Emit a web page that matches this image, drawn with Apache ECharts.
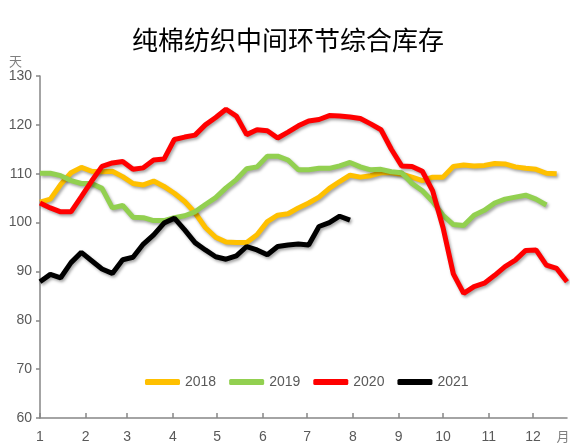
<!DOCTYPE html>
<html>
<head>
<meta charset="utf-8">
<script src="https://cdn.jsdelivr.net/npm/echarts@6/dist/echarts.min.js"></script>
<style>
html,body{margin:0;padding:0;background:#fff;}
#chart{width:576px;height:446px;}
</style>
</head>
<body>
<div id="chart"></div>
<script>
// 周度数据（按周排列，横轴为一年中的天数）
var months = [1,2,3,4,5,6,7,8,9,10,11,12];
var monthStartDay = [0,31,59,90,120,151,181,212,243,273,304,334];
var years = ['2018','2019','2020','2021'];
var colorLine = ['#ffc000','#92d050','#ff0000','#000000'];

var data2018 = [104.2,104.8,107.8,110.2,111.3,110.5,110.4,110.5,109.4,108,107.7,108.5,107.4,106,104.3,102,99,97,96,95.9,95.9,97.5,100.2,101.5,101.8,103,104,105.2,107,108.4,109.7,109.3,109.6,110.2,110.2,109.9,109.3,108.6,109.3,109.3,111.5,111.8,111.6,111.7,112.1,112,111.4,111.1,110.9,110.1,110];
var data2019 = [110.1,110.1,109.6,108.6,108,108,107,103,103.5,101.1,101,100.4,100.4,101,101.4,102.2,103.7,105.1,107.1,108.8,111,111.4,113.6,113.6,112.8,110.8,110.8,111.1,111.1,111.6,112.3,111.4,110.8,110.9,110.4,110.2,108,106.5,104.3,101.5,99.6,99.4,101.5,102.5,104,104.8,105.2,105.6,104.8,103.6];
var data2020 = [104,103,102.2,102.2,105.3,108.5,111.5,112.2,112.5,110.9,111.2,112.8,113,117,117.5,117.9,120,121.5,123.2,121.8,118,119,118.8,117.3,118.5,119.8,120.8,121.1,121.9,121.8,121.6,121.3,120.2,119,115,111.6,111.5,110.5,106.5,99,89.5,85.5,86.9,87.6,89.2,91,92.3,94.3,94.4,91.3,90.6,87.9];
var data2021 = [87.9,89.4,88.7,91.8,93.9,92.2,90.5,89.6,92.4,92.9,95.6,97.5,99.9,100.9,98.5,95.9,94.4,93,92.5,93.2,95.1,94.4,93.4,95.1,95.4,95.6,95.4,99.2,100,101.3,100.5];

var seriesList = [data2018,data2019,data2020,data2021];
var labelFont = "'Liberation Sans',sans-serif";

var seriesData = [];
years.forEach(function(p, k){
    seriesData.push({
        name: p,
        type: 'line',
        showSymbol: false,
        symbol: 'none',
        smooth: false,
        z: 2 + k,
        data: seriesList[k].map(function(v, i){ return [i * 7, v]; }),
        lineStyle: {
            color: colorLine[k],
            width: 5,
            shadowColor: 'rgba(0,0,0,0.35)',
            shadowBlur: 3,
            shadowOffsetX: 1.5,
            shadowOffsetY: 2
        },
        itemStyle: { color: colorLine[k] }
    });
});

var chart = echarts.init(document.getElementById('chart'));
var option = {
    backgroundColor: '#fff',
    animation: false,
    title: {
        text: '纯棉纺织中间环节综合库存',
        left: 'center',
        top: 22,
        textStyle: {
            fontFamily: "'Noto Sans CJK SC'",
            fontSize: 26,
            fontWeight: 'normal',
            color: '#000'
        }
    },
    legend: {
        data: years,
        left: 140,
        top: 370,
        icon: 'roundRect',
        itemWidth: 35,
        itemHeight: 6,
        itemGap: 13,
        textStyle: { fontFamily: labelFont, fontSize: 14, color: '#595959' }
    },
    grid: { left: 40, right: 9, top: 76, bottom: 28 },
    xAxis: {
        type: 'value',
        min: 0,
        max: 357,
        name: '月',
        nameLocation: 'end',
        nameGap: -4,
        nameTextStyle: {
            fontFamily: "'Noto Sans CJK SC'",
            fontSize: 13,
            color: '#7f7f7f',
            align: 'center',
            verticalAlign: 'top',
            padding: [12, 0, 0, 0]
        },
        splitLine: { show: false },
        axisLine: { lineStyle: { color: '#868686', width: 1.5 } },
        axisTick: { inside: true, length: 5, customValues: monthStartDay, lineStyle: { color: '#868686', width: 1.5 } },
        axisLabel: {
            customValues: monthStartDay,
            margin: 12,
            fontFamily: labelFont,
            fontSize: 14,
            color: '#595959',
            formatter: function (v) { return months[monthStartDay.indexOf(v)]; }
        }
    },
    yAxis: {
        type: 'value',
        min: 60,
        max: 130,
        interval: 10,
        name: '天',
        nameGap: 8,
        nameTextStyle: {
            fontFamily: "'Noto Sans CJK SC'",
            fontSize: 13,
            color: '#7f7f7f',
            align: 'right',
            padding: [0, 18, 0, 0]
        },
        splitLine: { show: false },
        axisLine: { show: true, lineStyle: { color: '#868686', width: 1.5 } },
        axisTick: { show: true, length: 4, lineStyle: { color: '#868686', width: 1.5 } },
        axisLabel: { margin: 8, fontFamily: labelFont, fontSize: 14, color: '#595959' }
    },
    series: seriesData
};
chart.setOption(option);
</script>
</body>
</html>
